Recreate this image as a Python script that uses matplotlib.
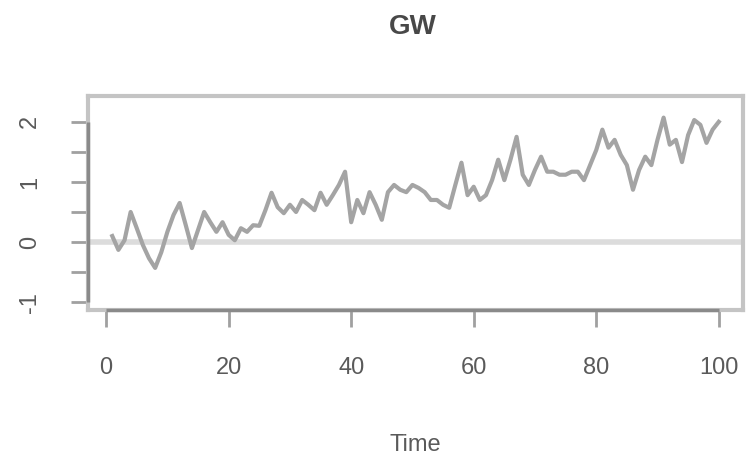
import matplotlib
matplotlib.use("Agg")
import matplotlib.pyplot as plt
import numpy as np

plt.rcParams["font.family"] = ["Liberation Sans", "DejaVu Sans"]

# series observed at t = 1..100
time = np.arange(1, 101)
values = [
    0.10, -0.13, 0.03, 0.50, 0.23, -0.05, -0.27, -0.43, -0.17, 0.17,
    0.45, 0.65, 0.28, -0.10, 0.20, 0.50, 0.33, 0.17, 0.33, 0.12,
    0.03, 0.23, 0.17, 0.28, 0.27, 0.53, 0.82, 0.58, 0.48, 0.62,
    0.50, 0.70, 0.62, 0.53, 0.82, 0.62, 0.78, 0.95, 1.17, 0.33,
    0.70, 0.48, 0.83, 0.62, 0.37, 0.83, 0.95, 0.87, 0.83, 0.95,
    0.90, 0.83, 0.70, 0.70, 0.62, 0.57, 0.95, 1.32, 0.78, 0.92,
    0.70, 0.78, 1.03, 1.37, 1.03, 1.37, 1.75, 1.12, 0.95, 1.20,
    1.42, 1.17, 1.17, 1.12, 1.12, 1.17, 1.17, 1.03, 1.28, 1.53,
    1.87, 1.57, 1.70, 1.45, 1.28, 0.87, 1.20, 1.42, 1.28, 1.70,
    2.07, 1.62, 1.70, 1.33, 1.78, 2.03, 1.95, 1.65, 1.87, 2.00,
]

x_ticks = [0, 20, 40, 60, 80, 100]
y_ticks = [-1, -0.5, 0, 0.5, 1, 1.5, 2]
y_labels = ["-1", "", "0", "", "1", "", "2"]

fig = plt.figure(figsize=(7.49, 4.63), dpi=100)
ax = fig.add_axes([0.1175, 0.3305, 0.8745, 0.4622])

ax.axhline(0, color="#dcdcdc", lw=4, zorder=1)
ax.plot(time, values, color="#a4a4a4", lw=3, zorder=2)

xlo, xhi = -2.96, 103.96
ylo, yhi = -1.13, 2.43
ax.set_xlim(xlo, xhi)
ax.set_ylim(ylo, yhi)

for s in ax.spines.values():
    s.set_color("#c4c4c4")
    s.set_linewidth(3)

# R-style axis lines running only between the end ticks
ax.plot([xlo, xlo], [y_ticks[0], y_ticks[-1]], color="#8a8a8a", lw=2.5,
        clip_on=False, zorder=5, solid_capstyle="butt")
ax.plot([x_ticks[0], x_ticks[-1]], [ylo, ylo], color="#8a8a8a", lw=2.5,
        clip_on=False, zorder=5, solid_capstyle="butt")

ax.set_xticks(x_ticks)
ax.set_xticklabels([str(v) for v in x_ticks])
ax.set_yticks(y_ticks)
ax.set_yticklabels(y_labels, rotation=90, va="center")
ax.tick_params(direction="out", length=12, width=2, color="#a0a0a0",
               labelsize=17, labelcolor="#5a5a5a")
ax.tick_params(axis="x", pad=22)
ax.tick_params(axis="y", pad=22)

fig.text(415 / 749, 1 - 445 / 463, "Time", ha="center", va="center",
         fontsize=17, color="#5a5a5a")
fig.text(413 / 749, 1 - 27 / 463, "GW", ha="center", va="center",
         fontsize=20, fontweight="bold", color="#484848")

fig.savefig("out.png", dpi=100)
